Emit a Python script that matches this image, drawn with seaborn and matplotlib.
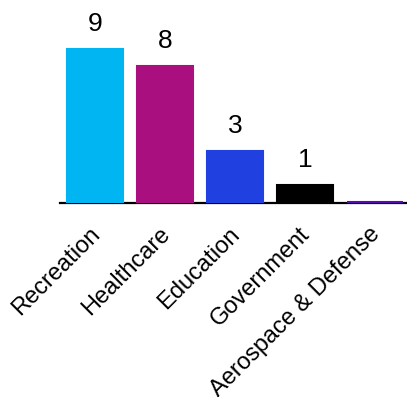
import matplotlib
matplotlib.use("Agg")
import matplotlib.pyplot as plt
import matplotlib.transforms as mtransforms
import seaborn as sns
import pandas as pd

# Counts by industry
industries = ["Recreation", "Healthcare", "Education", "Government", "Aerospace & Defense"]
counts = [9, 8, 3, 1, 0]
bar_colors = ["#00B5F1", "#AA0F80", "#2040E0", "#000000", "#5A0AB4"]
value_labels = ["9", "8", "3", "1", ""]

sns.set_theme(style="white")
plt.rcParams["font.family"] = ["Liberation Sans", "DejaVu Sans"]

df = pd.DataFrame({"industry": industries, "count": counts})

fig = plt.figure(figsize=(4.07, 3.97), dpi=100)
ax = fig.add_axes([60 / 407, 1 - 203 / 397, 350 / 407, 203 / 397])

sns.barplot(data=df, x="industry", y="count", hue="industry",
            palette=bar_colors, width=0.8, saturation=1, legend=False, ax=ax)

# zero-height bar still shows as a thin colored line above the baseline
for patch, c in zip(ax.patches, bar_colors):
    patch.set_edgecolor(c)
    patch.set_linewidth(1.5)
    patch.set_zorder(5)
    patch.set_clip_on(False)

for i, (v, lab) in enumerate(zip(counts, value_labels)):
    if lab:
        ax.annotate(lab, (i, v), xytext=(0, 9), textcoords="offset points",
                    ha="center", va="bottom", fontsize=19, color="#000000")

ax.set_xlim(-0.5, 4.5)
ax.set_ylim(-0.08, 203 / 17 - 0.08)
ax.set_xlabel("")
ax.set_ylabel("")
ax.set_yticks([])
ax.tick_params(axis="x", length=0, pad=11)
plt.setp(ax.get_xticklabels(), rotation=45, ha="right", rotation_mode="anchor",
         fontsize=17, color="#000000")
shift = mtransforms.ScaledTranslation(-6 / 100, -5 / 100, fig.dpi_scale_trans)
for lab in ax.get_xticklabels():
    lab.set_transform(lab.get_transform() + shift)

for side in ["top", "right", "left"]:
    ax.spines[side].set_visible(False)
ax.spines["bottom"].set_color("#000000")
ax.spines["bottom"].set_linewidth(1.6)
ax.spines["bottom"].set_zorder(1)

fig.savefig("out.png", dpi=100)
